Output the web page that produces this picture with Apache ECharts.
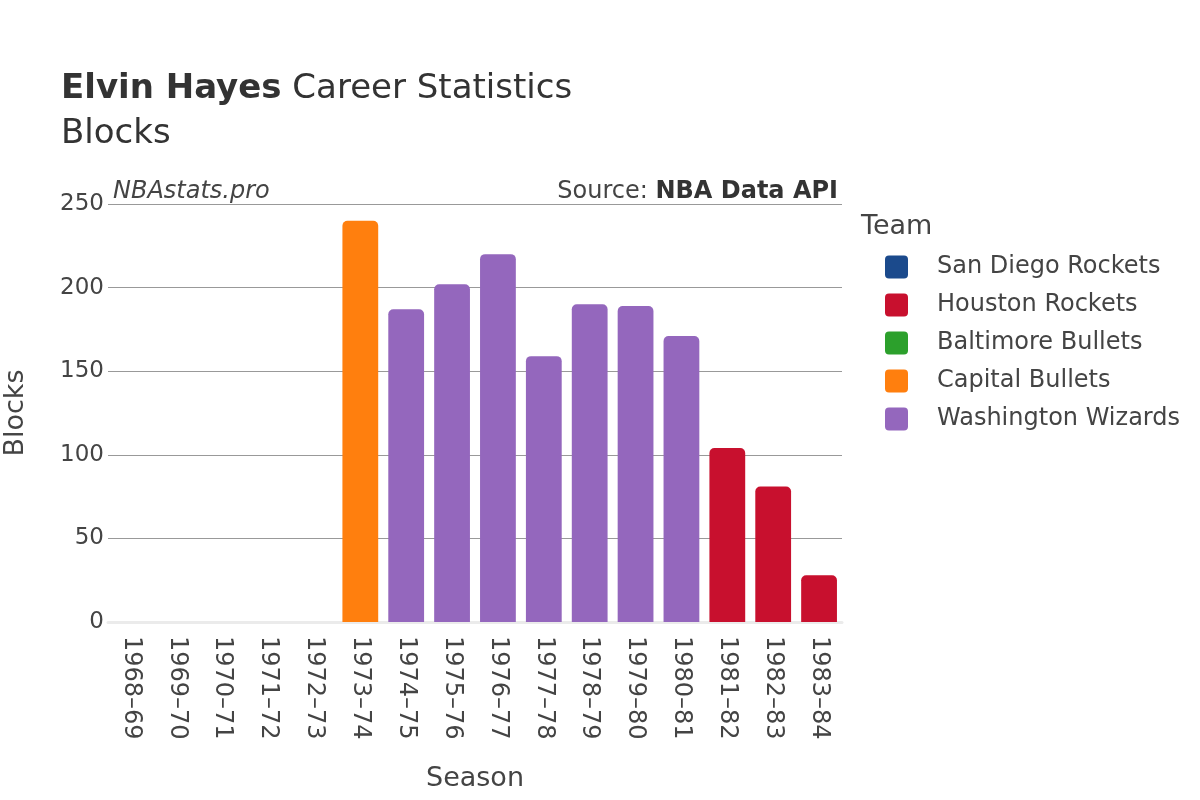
<!DOCTYPE html>
<html>
<head>
<meta charset="utf-8">
<script src="https://cdn.jsdelivr.net/npm/echarts@6/dist/echarts.min.js"></script>
<style>html,body{margin:0;padding:0;background:#fff;}#c{width:1200px;height:800px;}</style>
</head>
<body>
<div id="c"></div>
<script>
const seasons = ["1968–69","1969–70","1970–71","1971–72","1972–73","1973–74","1974–75","1975–76","1976–77","1977–78","1978–79","1979–80","1980–81","1981–82","1982–83","1983–84"];
const teamOfSeason = ["San Diego Rockets","San Diego Rockets","San Diego Rockets","Houston Rockets","Baltimore Bullets","Capital Bullets","Washington Wizards","Washington Wizards","Washington Wizards","Washington Wizards","Washington Wizards","Washington Wizards","Washington Wizards","Houston Rockets","Houston Rockets","Houston Rockets"];
const blocks = [0,0,0,0,0,240,187,202,220,159,190,189,171,104,81,28];
const teams = ["San Diego Rockets","Houston Rockets","Baltimore Bullets","Capital Bullets","Washington Wizards"];
const teamColors = ["#1b4a8c","#c8102e","#2ca02c","#ff7f0e","#9467bd"];
const yTicks = [0,50,100,150,200,250];

const FONT = "DejaVu Sans";
const series = teams.map((t, i) => ({
  name: t,
  type: 'bar',
  stack: 'all',
  barWidth: '78%',
  itemStyle: { color: teamColors[i], borderRadius: [5,5,0,0] },
  data: blocks.map((v, k) => teamOfSeason[k] === t ? v : null)
}));

const ICON = 'path://M4,0 H19 A4,4 0 0 1 23,4 V19 A4,4 0 0 1 19,23 H4 A4,4 0 0 1 0,19 V4 A4,4 0 0 1 4,0 Z';

const chart = echarts.init(document.getElementById('c'), null, {renderer: 'canvas'});
chart.setOption({
  animation: false,
  backgroundColor: '#fff',
  textStyle: { fontFamily: FONT },
  grid: { left: 108, right: 358, top: 204, bottom: 178, containLabel: false, outerBoundsMode: 'none' },
  xAxis: {
    type: 'category',
    data: seasons,
    name: 'Season',
    nameLocation: 'middle',
    nameGap: 143,
    nameTextStyle: { fontSize: 27, color: '#444', fontFamily: FONT },
    axisLine: { show: true, lineStyle: { color: '#ebebeb', width: 3 } },
    axisTick: { show: false },
    axisLabel: { rotate: -90, fontSize: 24, color: '#444', margin: 14, fontFamily: FONT, interval: 0 }
  },
  yAxis: {
    type: 'value',
    min: 0, max: 250, interval: 50,
    name: 'Blocks',
    nameLocation: 'middle',
    nameGap: 79,
    nameRotate: 90,
    nameTextStyle: { fontSize: 27, color: '#444', fontFamily: FONT },
    axisLine: { show: false },
    axisTick: { show: false },
    axisLabel: { fontSize: 23, color: '#444', margin: 4, fontFamily: FONT,
      formatter: v => yTicks.includes(v) ? String(v) : '' },
    splitLine: { lineStyle: { color: '#999', width: 1 } }
  },
  legend: {
    orient: 'vertical',
    left: 880,
    top: 250,
    itemWidth: 23,
    itemHeight: 23,
    itemGap: 14,
    icon: ICON,
    data: teams,
    textStyle: { fontSize: 24, lineHeight: 23, color: '#444', fontFamily: FONT, padding: [0,0,0,24] }
  },
  graphic: [
    { type: 'text', left: 61, top: 72, style: { text: '{b|Elvin Hayes} Career Statistics', rich: { b: { fontWeight: 'bold', fontSize: 34, fill: '#333', fontFamily: FONT } }, fontSize: 34, fill: '#333', fontFamily: FONT } },
    { type: 'text', left: 61, top: 117, style: { text: 'Blocks', fontSize: 34, fill: '#333', fontFamily: FONT } },
    { type: 'text', left: 113, top: 180, style: { text: 'NBAstats.pro', fontSize: 24, fontStyle: 'italic', fill: '#444', fontFamily: FONT } },
    { type: 'text', right: 362, top: 180, style: { text: 'Source: {b|NBA Data API}', rich: { b: { fontWeight: 'bold', fontSize: 24, fill: '#333', fontFamily: FONT } }, fontSize: 24, fill: '#444', fontFamily: FONT } },
    { type: 'text', left: 861, top: 213, style: { text: 'Team', fontSize: 27, fill: '#444', fontFamily: FONT } }
  ],
  series: series
});
</script>
</body>
</html>
